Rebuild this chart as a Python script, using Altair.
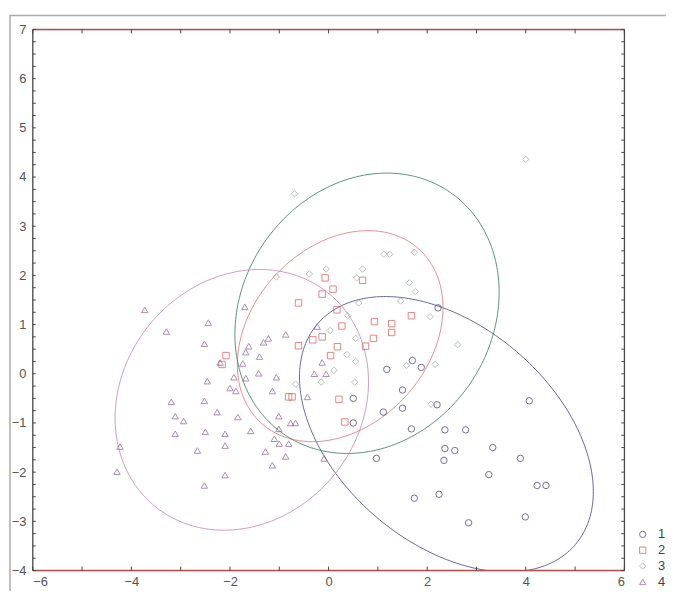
import altair as alt
import numpy as np
import pandas as pd

# ---- data ----
g1_x = [1.18, 1.70, 1.88, 1.50, 1.50, 1.11, 2.20, 1.68, 2.36, 2.78, 4.07, 2.36, 2.56, 2.34, 3.33, 3.89, 3.25, 4.23, 4.41, 1.74, 2.24, 3.99, 2.84, 0.97, 2.22, 0.50, 0.50]
g1_y = [0.09, 0.27, 0.13, -0.33, -0.70, -0.78, -0.63, -1.12, -1.14, -1.14, -0.55, -1.52, -1.56, -1.76, -1.50, -1.72, -2.05, -2.27, -2.27, -2.53, -2.45, -2.91, -3.03, -1.72, 1.34, -0.50, -1.00]

g2_x = [-0.61, -2.08, -2.16, -0.61, -0.81, -0.74, -0.07, 0.09, 0.27, -0.13, -0.32, 0.18, 0.04, 0.21, 0.33, 0.69, -0.13, 0.17, 1.68, 0.93, 1.28, 1.28, 0.91, 0.75]
g2_y = [1.44, 0.37, 0.19, 0.57, -0.47, -0.47, 1.95, 1.72, 0.97, 0.75, 0.69, 0.55, 0.37, -0.52, -0.98, 1.90, 1.62, 1.30, 1.18, 1.06, 1.02, 0.84, 0.72, 0.56]

g3_x = [-0.69, 4.00, 1.12, 1.24, 1.74, -0.05, 0.69, -0.39, 0.57, 1.64, 1.76, 1.46, 0.61, 2.06, 2.62, 2.16, 1.58, 0.39, 0.03, 0.55, 0.37, 0.55, 0.11, -0.15, 0.53, -0.67, -1.06, 2.08]
g3_y = [3.66, 4.36, 2.43, 2.43, 2.47, 2.13, 2.13, 2.03, 1.95, 1.85, 1.67, 1.48, 1.44, 1.16, 0.59, 0.19, 0.17, 1.18, 0.88, 0.72, 0.39, 0.25, 0.07, -0.17, -0.17, -0.21, 1.97, -0.62]

g4_x = [-3.73, -3.29, -2.44, -2.52, -1.70, -1.32, -1.22, -0.87, -1.62, -1.68, -1.40, -2.20, -1.74, -2.46, -1.92, -1.68, -1.42, -1.06, -2.00, -1.88, -1.14, -3.19, -2.52, -2.26, -3.11, -2.94, -1.84, -1.01, -0.77, -0.67, -1.01, -1.58, -3.11, -2.50, -2.10, -2.10, -2.66, -4.23, -1.10, -1.00, -0.81, -1.28, -0.87, -1.14, -0.09, -4.29, -2.10, -2.52, -0.23, -0.13, -0.29, -0.05, -0.43]
g4_y = [1.30, 0.86, 1.04, 0.61, 1.36, 0.64, 0.72, 0.80, 0.56, 0.44, 0.35, 0.23, 0.21, -0.15, -0.07, -0.09, 0.01, -0.07, -0.29, -0.35, -0.35, -0.57, -0.55, -0.78, -0.86, -0.96, -0.88, -0.86, -1.00, -1.00, -1.12, -1.16, -1.22, -1.18, -1.22, -1.46, -1.56, -1.48, -1.32, -1.42, -1.42, -1.58, -1.68, -1.86, -1.72, -1.99, -2.06, -2.27, 0.96, 0.23, 0.00, 0.00, -0.47]

groups = ["1", "2", "3", "4"]
# ellipse: centre x, centre y, half-width, half-height, correlation
ell_cx = [2.39, 0.235, 0.78, -1.76]
ell_cy = [-1.23, 0.765, 1.23, -0.53]
ell_sx = [2.98, 2.085, 2.68, 2.57]
ell_sy = [2.80, 2.145, 2.85, 2.65]
ell_r = [-0.416, 0.27, 0.15, 0.14]

x_ticks_major = list(range(-6, 7))
y_ticks_minor = [v / 4 for v in range(-16, 29)]

point_colors = ["#34346e", "#d9534f", "#93aa9c", "#8a5c9c"]
ellipse_colors = ["#4b4b95", "#e07a7a", "#3f7f5f", "#c58ab8"]
shapes = ["circle", "square", "diamond", "triangle-up"]

rows = []
for g, xs, ys in zip(groups, [g1_x, g2_x, g3_x, g4_x], [g1_y, g2_y, g3_y, g4_y]):
    for x, y in zip(xs, ys):
        rows.append({"x": x, "y": y, "group": g})
pts = pd.DataFrame(rows)

t = np.linspace(0, 2 * np.pi, 241)
erows = []
for g, cx, cy, sx, sy, r in zip(groups, ell_cx, ell_cy, ell_sx, ell_sy, ell_r):
    for i, tt in enumerate(t):
        erows.append({
            "x": cx + sx * np.cos(tt),
            "y": cy + sy * (r * np.cos(tt) + np.sqrt(1 - r * r) * np.sin(tt)),
            "egroup": g, "i": i})
ell = pd.DataFrame(erows)

xscale = alt.Scale(domain=[-6, 6], nice=False, zero=False)
yscale = alt.Scale(domain=[-4, 7], nice=False, zero=False)

xaxis = alt.Axis(values=[-6, -4, -2, 0, 2, 4, 6], title=None, grid=False, domain=False,
                 ticks=False, labelPadding=5, labelFontSize=13, labelColor="#555",
                 labelFont="Liberation Sans")
yaxis = alt.Axis(values=list(range(-4, 8)), title=None, grid=False, domain=False,
                 ticks=False, labelPadding=7, labelFontSize=13, labelColor="#555",
                 labelFont="Liberation Sans")

ellipses = alt.Chart(ell).mark_line(strokeWidth=1, clip=True, opacity=0.85).encode(
    x=alt.X("x:Q", scale=xscale, axis=xaxis),
    y=alt.Y("y:Q", scale=yscale, axis=yaxis),
    detail="egroup:N",
    order="i:Q",
    color=alt.Color("egroup:N", scale=alt.Scale(domain=groups, range=ellipse_colors), legend=None),
)

leg = alt.Legend(title=None, orient="none", legendX=609, legendY=503,
                 labelFontSize=13, labelColor="#444", symbolSize=40,
                 rowPadding=2, labelOffset=9, labelFont="Liberation Sans",
                 symbolStrokeWidth=1)

points = alt.Chart(pts).mark_point(filled=False, size=42, strokeWidth=1).encode(
    x=alt.X("x:Q", scale=xscale),
    y=alt.Y("y:Q", scale=yscale),
    color=alt.Color("group:N", scale=alt.Scale(domain=groups, range=point_colors), legend=leg),
    shape=alt.Shape("group:N", scale=alt.Scale(domain=groups, range=shapes), legend=leg),
)

hlines = alt.Chart(pd.DataFrame({"y": [7, -4]})).mark_rule(color="#b05050", strokeWidth=1.5).encode(
    y=alt.Y("y:Q", scale=yscale))
vlines = alt.Chart(pd.DataFrame({"x": [-6, 6]})).mark_rule(color="#444", strokeWidth=1.2).encode(
    x=alt.X("x:Q", scale=xscale))

# inward ticks
tick_y = pd.DataFrame({"y": y_ticks_minor})
left_ticks = alt.Chart(tick_y).mark_rule(color="#444", strokeWidth=1).encode(
    y=alt.Y("y:Q", scale=yscale), x=alt.value(0), x2=alt.value(3))
right_ticks = alt.Chart(tick_y).mark_rule(color="#444", strokeWidth=1).encode(
    y=alt.Y("y:Q", scale=yscale), x=alt.value(594), x2=alt.value(597))
tick_x = pd.DataFrame({"x": x_ticks_major})
bottom_ticks = alt.Chart(tick_x).mark_rule(color="#444", strokeWidth=1).encode(
    x=alt.X("x:Q", scale=xscale), y=alt.value(546), y2=alt.value(542))
top_ticks = alt.Chart(tick_x).mark_rule(color="#444", strokeWidth=1).encode(
    x=alt.X("x:Q", scale=xscale), y=alt.value(0), y2=alt.value(4))

outer = alt.Chart(pd.DataFrame({"a": [0]})).mark_rect(fill=None, stroke="#aaa", strokeWidth=1.5).encode(
    x=alt.value(-23), x2=alt.value(700), y=alt.value(-14), y2=alt.value(700))

chart = alt.layer(outer, ellipses, points, hlines, vlines,
                  left_ticks, right_ticks, bottom_ticks, top_ticks).resolve_scale(
    color="independent", shape="independent"
).properties(
    width=597, height=546,
    autosize=alt.AutoSizeParams(type="none"),
    padding={"left": 25, "top": 19, "right": 42, "bottom": 18},
).configure_view(stroke=None).configure(background="white")

chart.save("out.html", embed_options={"renderer": "svg", "actions": False})
